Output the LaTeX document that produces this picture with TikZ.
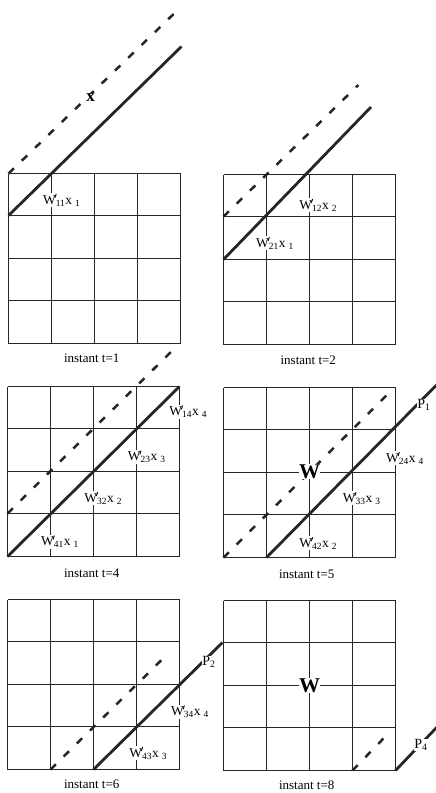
\documentclass[tikz,border=0pt]{standalone}
\usepackage{fontspec}
\setmainfont{Liberation Serif}
\newcommand\wx[2]{W\rlap{\kern-0.1em\raisebox{0.48em}{\rotatebox{-20}{\rule{0.9pt}{0.3em}}}}\textsubscript{#1}x\kern0.22em\textsubscript{#2}}
\newcommand\gridat[2]{%
  \begin{scope}[shift={(#1,#2)}]
    \foreach \i in {0,...,4} \draw[gridline] (\i*43,0) -- (\i*43,170);
    \foreach \j in {0,42,85,127,170} \draw[gridline] (0,\j) -- (172,\j);
  \end{scope}}
\begin{document}
\begin{tikzpicture}[x=1pt,y=-1pt,
  gridline/.style={line width=1.3pt, black!85, line cap=square},
  solidline/.style={line width=2.8pt, black!85},
  dashline/.style={line width=2.5pt, black!85, dash pattern=on 7.5pt off 11pt},
  wlab/.style={fill=white, inner sep=0.6pt, font=\fontsize{13.5}{13.5}\selectfont},
  bigw/.style={fill=white, inner sep=0.4pt, font=\fontsize{21}{21}\selectfont\bfseries},
  plab/.style={fill=white, inner sep=0.3pt, font=\fontsize{14}{14}\selectfont},
  xlab/.style={fill=white, inner sep=0.3pt, font=\fontsize{17}{17}\selectfont\bfseries},
  caption/.style={font=\fontsize{13}{13}\selectfont}]
\useasboundingbox (0,0) rectangle (436,793);
\fill[white] (0,0) rectangle (436,793);

% grids
\gridat{8.5}{173.5}
\gridat{223.5}{174.5}
\gridat{7.5}{386.5}
\gridat{223.5}{387.5}
\gridat{7.5}{599.5}
\gridat{223.5}{600.5}

% end points of the lines
\coordinate (s1a) at (8.5,215.5);  \coordinate (s1b) at (181.5,46.5);
\coordinate (d1a) at (8.5,173.5);  \coordinate (d1b) at (176,11.7);
\coordinate (s2a) at (223.5,259.5);\coordinate (s2b) at (371,107);
\coordinate (d2a) at (223.5,216.5);\coordinate (d2b) at (358.3,85);
\coordinate (s4a) at (7.5,556.5);  \coordinate (s4b) at (179.5,386.5);
\coordinate (d4a) at (7.5,513.5);  \coordinate (d4b) at (176,347);
\coordinate (s5a) at (266.5,557.5);\coordinate (s5b) at (438,383.5);
\coordinate (d5a) at (223.5,557.5);\coordinate (d5b) at (391,391);
\coordinate (s6a) at (93.5,769.5); \coordinate (s6b) at (222.5,642.5);
\coordinate (d6a) at (50.5,769.5); \coordinate (d6b) at (168.3,653.3);
\coordinate (s8a) at (395.5,770.5);\coordinate (s8b) at (438,726);
\coordinate (d8a) at (352.5,770.5);\coordinate (d8b) at (390,731.7);

\draw[solidline] (s1a) -- (s1b);  \draw[dashline] (d1a) -- (d1b);
\draw[solidline] (s2a) -- (s2b);  \draw[dashline] (d2a) -- (d2b);
\draw[solidline] (s4a) -- (s4b);  \draw[dashline] (d4a) -- (d4b);
\draw[solidline] (s5a) -- (s5b);  \draw[dashline] (d5a) -- (d5b);
\draw[solidline] (s6a) -- (s6b);  \draw[dashline] (d6a) -- (d6b);
\draw[solidline] (s8a) -- (s8b);  \draw[dashline] (d8a) -- (d8b);

% labels
\node[xlab] (xv) at (90.5,98) {x};
\node[wlab] (w11) at (61.7,200) {\wx{11}{1}};

\node[wlab] (w12) at (318.3,205) {\wx{12}{2}};
\node[wlab] (w21) at (275,243.3) {\wx{21}{1}};

\node[wlab] (w14) at (188.3,411.7) {\wx{14}{4}};
\node[wlab] (w23) at (146.7,456.7) {\wx{23}{3}};
\node[wlab] (w32) at (103.3,498.3) {\wx{32}{2}};
\node[wlab] (w41) at (60,541.7) {\wx{41}{1}};

\node[bigw] (bw5) at (309.5,471.5) {W};
\node[wlab] (w42) at (318.3,543.3) {\wx{42}{2}};
\node[wlab] (w33) at (361.7,498.3) {\wx{33}{3}};
\node[wlab] (w24) at (405,458.3) {\wx{24}{4}};
\node[plab] (p1) at (424,405) {P\textsubscript{1}};

\node[wlab] (w43) at (148.3,753.3) {\wx{43}{3}};
\node[wlab] (w34) at (190,711.7) {\wx{34}{4}};
\node[plab] (p2) at (209,661.5) {P\textsubscript{2}};

\node[bigw] (bw8) at (309.5,685.5) {W};
\node[plab] (p4) at (421,745) {P\textsubscript{4}};

\node[caption] (c1) at (91.7,358.3) {instant t=1};
\node[caption] (c2) at (308.3,360.7) {instant t=2};
\node[caption] (c4) at (91.7,573.3) {instant t=4};
\node[caption] (c5) at (306.7,574) {instant t=5};
\node[caption] (c6) at (91.7,784.3) {instant t=6};
\node[caption] (c8) at (306.7,785.7) {instant t=8};
\end{tikzpicture}
\end{document}
